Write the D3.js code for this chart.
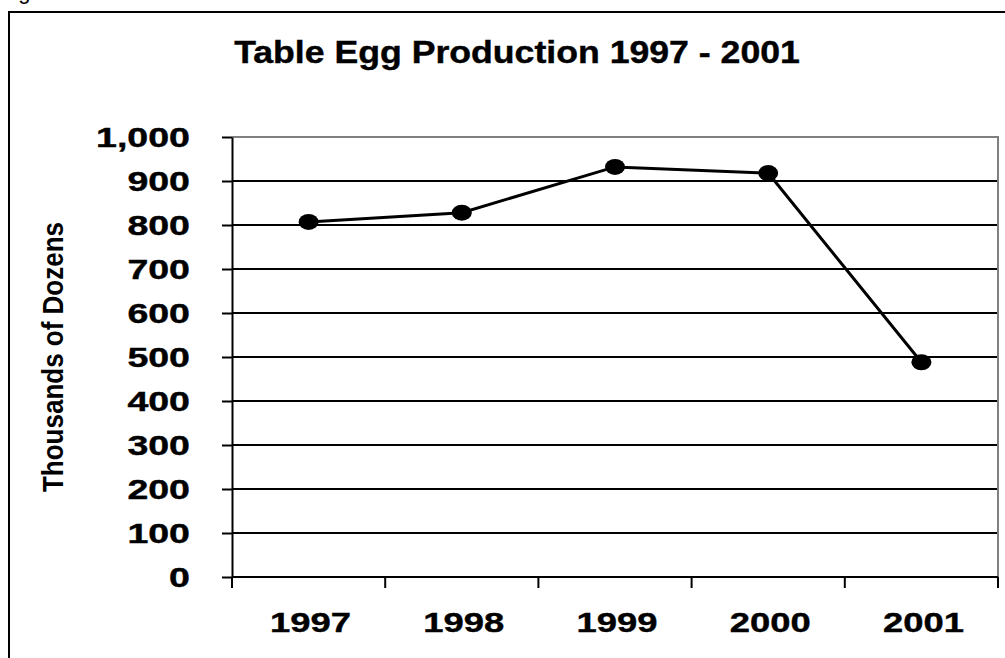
<!DOCTYPE html>
<html>
<head>
<meta charset="utf-8">
<script src="https://cdn.jsdelivr.net/npm/d3@7"></script>
<style>
  body { margin: 0; background: #fff; }
  text { font-family: "Liberation Sans", Arial, sans-serif; fill: #000; }
</style>
</head>
<body>
<script>
// data
const years = ["1997", "1998", "1999", "2000", "2001"]
const production = [807, 828, 932, 918, 488]
const yTicks = [0, 100, 200, 300, 400, 500, 600, 700, 800, 900, 1000]

const measurements = { width: 1005, height: 658 }
const plot = { left: 232, right: 998, top: 137, bottom: 577 }

const svg = d3.select("body").append("svg")
    .attr("width", measurements.width)
    .attr("height", measurements.height)

// cut off caption above the frame (only the descender shows)
svg.append("text")
    .attr("x", 0).attr("y", -1)
    .attr("font-size", 22)
    .text("Figure")

// outer frame
svg.append("rect")
    .attr("x", 9).attr("y", 12)
    .attr("width", 1100).attr("height", 800)
    .attr("fill", "none")
    .attr("stroke", "#000")
    .attr("stroke-width", 2)

const x = d3.scaleBand()
    .domain(years)
    .range([plot.left, plot.right])
    .padding(0)

const y = d3.scaleLinear()
    .domain([0, 1000])
    .range([plot.bottom, plot.top])

// title
svg.append("text")
    .attr("transform", "translate(517,63) scale(1.15,1)")
    .attr("text-anchor", "middle")
    .attr("font-size", 31)
    .attr("font-weight", "bold")
    .attr("stroke", "#000").attr("stroke-width", 0.4)
    .text("Table Egg Production 1997 - 2001")

// gridlines
svg.append("g").selectAll("line")
    .data(yTicks.filter(d => d > 0 && d < 1000))
    .enter().append("line")
    .attr("x1", plot.left).attr("x2", plot.right)
    .attr("y1", d => Math.round(y(d))).attr("y2", d => Math.round(y(d)))
    .attr("stroke", "#000")
    .attr("stroke-width", 2)

// gray plot border (top + right)
svg.append("path")
    .attr("d", `M${plot.left},${y(1000)}H${plot.right}V${plot.bottom}`)
    .attr("fill", "none")
    .attr("stroke", "#808080")
    .attr("stroke-width", 2)

// y axis
const yAxis = svg.append("g")
    .attr("transform", `translate(${plot.left},0)`)
    .call(d3.axisLeft(y).tickValues(yTicks).tickSize(10).tickSizeOuter(0).tickFormat(""))
yAxis.selectAll("path, line").attr("stroke", "#000").attr("stroke-width", 2)

svg.append("g").selectAll("text")
    .data(yTicks)
    .enter().append("text")
    .attr("transform", d => `translate(190,${y(d) + 10}) scale(1.39,1)`)
    .attr("text-anchor", "end")
    .attr("font-size", 27)
    .attr("font-weight", "bold")
    .attr("stroke", "#000").attr("stroke-width", 0.4)
    .text(d => d3.format(",")(d))

// x axis with ticks on band edges
svg.append("line")
    .attr("x1", plot.left).attr("x2", plot.right)
    .attr("y1", plot.bottom).attr("y2", plot.bottom)
    .attr("stroke", "#000").attr("stroke-width", 2)

const edges = years.map(d => x(d)).concat([x(years[years.length - 1]) + x.bandwidth()])
svg.append("g").selectAll("line")
    .data(edges)
    .enter().append("line")
    .attr("x1", d => d).attr("x2", d => d)
    .attr("y1", plot.bottom).attr("y2", plot.bottom + 11)
    .attr("stroke", "#000").attr("stroke-width", 2)

svg.append("g").selectAll("text")
    .data(years)
    .enter().append("text")
    .attr("transform", d => `translate(${x(d) + x.bandwidth() / 2 + 2},632) scale(1.3,1)`)
    .attr("text-anchor", "middle")
    .attr("font-size", 28)
    .attr("font-weight", "bold")
    .attr("stroke", "#000").attr("stroke-width", 0.4)
    .text(d => d)

// y axis title
svg.append("text")
    .attr("transform", `translate(63,${(plot.top + plot.bottom) / 2}) rotate(-90)`)
    .attr("text-anchor", "middle")
    .attr("font-size", 29)
    .attr("font-weight", "bold")
    .attr("textLength", 270)
    .attr("lengthAdjust", "spacingAndGlyphs")
    .text("Thousands of Dozens")

// line + markers
const pts = years.map((d, i) => ({ year: d, value: production[i] }))
const line = d3.line()
    .x(d => x(d.year) + x.bandwidth() / 2)
    .y(d => y(d.value))

svg.append("path")
    .datum(pts)
    .attr("d", line)
    .attr("fill", "none")
    .attr("stroke", "#000")
    .attr("stroke-width", 3)

svg.append("g").selectAll("ellipse")
    .data(pts)
    .enter().append("ellipse")
    .attr("cx", d => x(d.year) + x.bandwidth() / 2)
    .attr("cy", d => y(d.value))
    .attr("rx", 10)
    .attr("ry", 8)
    .attr("fill", "#000")
</script>
</body>
</html>
